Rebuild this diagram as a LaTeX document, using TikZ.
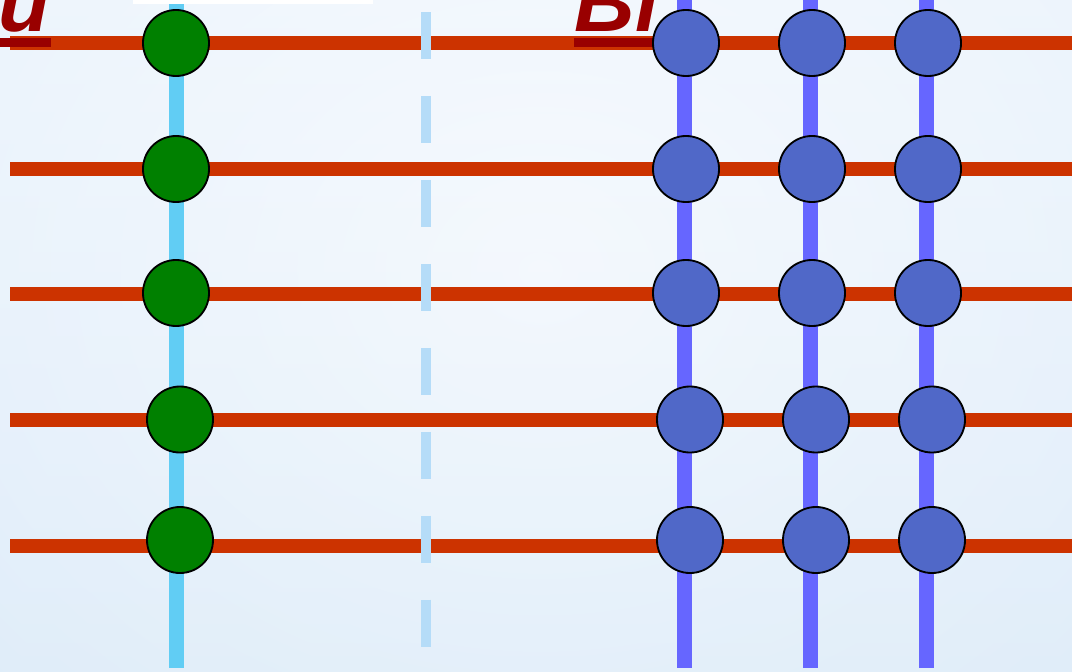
\documentclass[tikz,border=0pt]{standalone}
\usepackage{fontspec}
\setmainfont{Liberation Sans}

\definecolor{phasered}{RGB}{204,51,0}
\definecolor{titlered}{RGB}{153,0,0}
\definecolor{feedercyan}{RGB}{97,205,244}
\definecolor{gridblue}{RGB}{102,102,255}
\definecolor{nodeblue}{RGB}{80,104,200}
\definecolor{nodegreen}{RGB}{0,128,0}
\definecolor{splitblue}{RGB}{181,220,248}
\definecolor{bgtop}{RGB}{243,248,254}
\definecolor{bgmid}{RGB}{250,252,255}
\definecolor{bgbottom}{RGB}{222,236,249}

\begin{document}
\begin{tikzpicture}[
  x=0.025cm,
  y=-0.025cm,
  font=\bfseries\itshape,
  rail/.style={draw=phasered, line width=10pt},
  feeder/.style={draw=feedercyan, line width=10.7pt},
  column/.style={draw=gridblue, line width=10.7pt},
  split/.style={
    draw=splitblue,
    line width=7.8pt,
    dash pattern=on 33.4pt off 26.3pt
  },
  unode/.style={
    circle,
    draw=black,
    fill=nodegreen,
    line width=1.3pt,
    minimum size=16.5mm,
    inner sep=0pt
  },
  binode/.style={
    circle,
    draw=black,
    fill=nodeblue,
    line width=1.3pt,
    minimum size=16.5mm,
    inner sep=0pt
  },
  heading/.style={
    font=\fontsize{60}{60}\selectfont\bfseries\itshape,
    text=titlered,
    inner sep=0pt
  }
]

\useasboundingbox (0,0) rectangle (1072,671);
\clip (0,0) rectangle (1072,671);

% ---------------------------------------------------------------------------
% Background
% ---------------------------------------------------------------------------
\shade[top color=bgtop, middle color=bgmid, bottom color=bgbottom]
  (0,0) rectangle (1072,671);
\shade[inner color=white, outer color=bgbottom, opacity=0.45]
  (-300,-420) rectangle (1380,960);

% ---------------------------------------------------------------------------
% Line ends
% ---------------------------------------------------------------------------
\coordinate (r1w) at (10,43);   \coordinate (r1e) at (1080,43);
\coordinate (r2w) at (10,169);  \coordinate (r2e) at (1080,169);
\coordinate (r3w) at (10,294);  \coordinate (r3e) at (1080,294);
\coordinate (r4w) at (10,420);  \coordinate (r4e) at (1080,420);
\coordinate (r5w) at (10,546);  \coordinate (r5e) at (1080,546);

\coordinate (cun) at (176.5,-8);  \coordinate (cus) at (176.5,668);
\coordinate (c1n) at (684.5,-8);  \coordinate (c1s) at (684.5,668);
\coordinate (c2n) at (810.5,-8);  \coordinate (c2s) at (810.5,668);
\coordinate (c3n) at (926.5,-8);  \coordinate (c3s) at (926.5,668);
\coordinate (spn) at (426,12);    \coordinate (sps) at (426,647);

% ---------------------------------------------------------------------------
% Rails and columns
% ---------------------------------------------------------------------------
\draw[feeder] (cun) -- (cus);
\draw[column] (c1n) -- (c1s);
\draw[column] (c2n) -- (c2s);
\draw[column] (c3n) -- (c3s);

\draw[rail] (r1w) -- (r1e);
\draw[rail] (r2w) -- (r2e);
\draw[rail] (r3w) -- (r3e);
\draw[rail] (r4w) -- (r4e);
\draw[rail] (r5w) -- (r5e);

\draw[split] (spn) -- (sps);

\fill[white] (133,-2) rectangle (373,4);

% ---------------------------------------------------------------------------
% Headings (cut by the top edge)
% ---------------------------------------------------------------------------
\node[heading, anchor=base east] (uhead) at (50,31) {u};
\node[heading, anchor=base west] (bihead) at (574,31) {Bi};
\fill[titlered] (0,38) rectangle (51,47);
\fill[titlered] (574,38) rectangle (666,47);

% ---------------------------------------------------------------------------
% Nodes
% ---------------------------------------------------------------------------
\node[unode] (u1) at (176,43) {};
\node[unode] (u2) at (176,169) {};
\node[unode] (u3) at (176,293) {};
\node[unode] (u4) at (180,419.5) {};
\node[unode] (u5) at (180,540) {};

\node[binode] (b11) at (686,43) {};
\node[binode] (b12) at (812,43) {};
\node[binode] (b13) at (928,43) {};
\node[binode] (b21) at (686,169) {};
\node[binode] (b22) at (812,169) {};
\node[binode] (b23) at (928,169) {};
\node[binode] (b31) at (686,293) {};
\node[binode] (b32) at (812,293) {};
\node[binode] (b33) at (928,293) {};
\node[binode] (b41) at (690,419.5) {};
\node[binode] (b42) at (816,419.5) {};
\node[binode] (b43) at (932,419.5) {};
\node[binode] (b51) at (690,540) {};
\node[binode] (b52) at (816,540) {};
\node[binode] (b53) at (932,540) {};

\end{tikzpicture}
\end{document}
